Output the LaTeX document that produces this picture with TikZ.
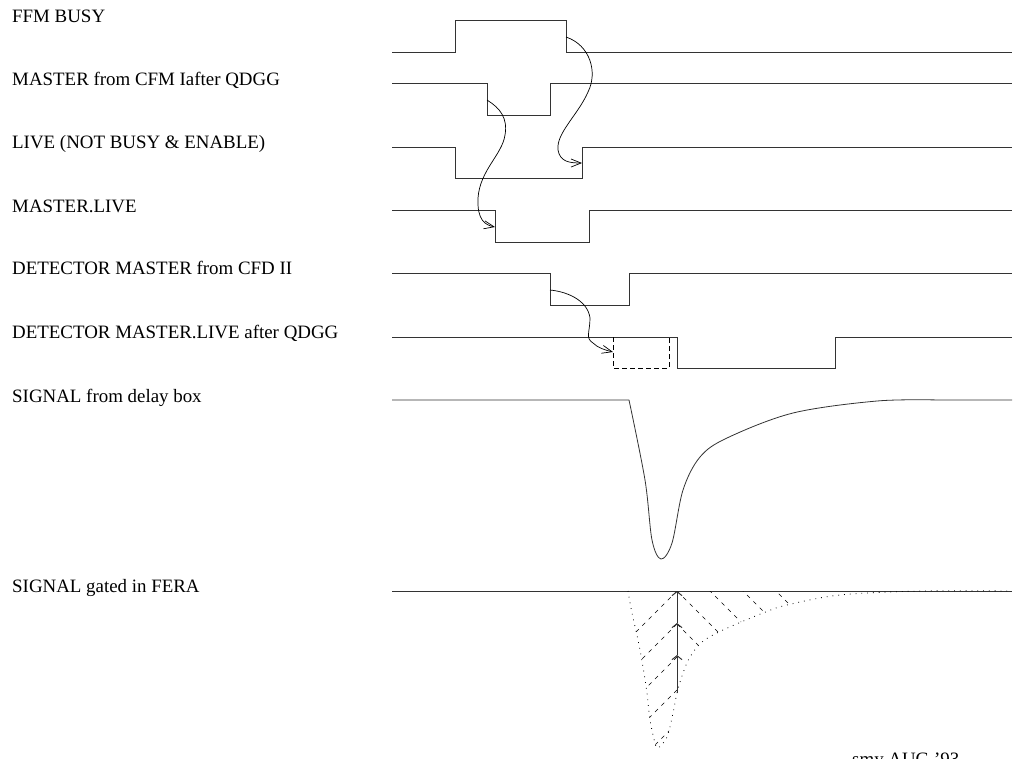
\documentclass[tikz,border=0pt]{standalone}
\usepackage{fontspec}
\setmainfont{Liberation Serif}
\usetikzlibrary{arrows.meta}
\begin{document}
\begin{tikzpicture}[x=1pt, y=-1pt,
    every node/.style={inner sep=0pt, anchor=base west, font=\fontsize{18.9}{22}\selectfont},
    wave/.style={line width=1pt, black!80},
    link/.style={line width=0.7pt, -{Straight Barb[length=10pt,width=8pt]}},
    gate/.style={line width=1pt, black!80, -{Straight Barb[length=4pt,width=10pt]}},
    hatch/.style={line width=0.6pt, dash pattern=on 4pt off 5pt},
    dotline/.style={line width=0.8pt, dash pattern=on 0.8pt off 5pt}]
  \useasboundingbox (0,0) rectangle (1014,758);
  % signal names
  \node (busy) at (12,22) {FFM BUSY};
  \node (master) at (12,85) {MASTER from CFM Iafter QDGG};
  \node (live) at (12,148) {LIVE (NOT BUSY \& ENABLE)};
  \node (mlive) at (12,212) {MASTER.LIVE};
  \node (detm) at (12,274) {DETECTOR MASTER from CFD II};
  \node (detml) at (12,338) {DETECTOR MASTER.LIVE after QDGG};
  \node (sig) at (12,402) {SIGNAL from delay box};
  \node (gated) at (12,592) {SIGNAL gated in FERA};
  \node (stamp) at (852,765) {smy AUG '93};
  % logic levels
  \draw[wave] (392,52) -- (455,52) -- (455,20) -- (566,20) -- (566,52) -- (1012,52);
  \draw[wave] (392,83) -- (487,83) -- (487,115) -- (550,115) -- (550,83) -- (1012,83);
  \draw[wave] (392,147) -- (455,147) -- (455,178) -- (582,178) -- (582,147) -- (1012,147);
  \draw[wave] (392,210) -- (495,210) -- (495,242) -- (589,242) -- (589,210) -- (1012,210);
  \draw[wave] (392,273) -- (550,273) -- (550,305) -- (629,305) -- (629,273) -- (1012,273);
  \draw[wave] (392,337) -- (677,337) -- (677,368) -- (835,368) -- (835,337) -- (1012,337);
  \draw[line width=0.8pt, dash pattern=on 5pt off 3pt] (613,337) -- (613,368) -- (669,368) -- (669,337);
  % edges for the links
  \coordinate (busyfall) at (566,37);
  \coordinate (liverise) at (582,163);
  \coordinate (masterfall) at (487,100);
  \coordinate (mlivefall) at (495,227);
  \coordinate (detmfall) at (550,290);
  \coordinate (window) at (613,352);
  \draw[link] (busyfall) .. controls (590,45) and (598,72) .. (588,92)
     .. controls (578,115) and (556,133) .. (558,150)
     .. controls (560,162) and (570,163) .. (liverise);
  \draw[link] (masterfall) .. controls (500,108) and (508,118) .. (505,135)
     .. controls (502,155) and (480,170) .. (478,198)
     .. controls (477,220) and (485,225) .. (mlivefall);
  \draw[link] (detmfall) .. controls (570,292) and (588,302) .. (590,318)
     .. controls (590,332) and (585,338) .. (593,343)
     .. controls (598,348) and (605,350) .. (window);
  % analog signal
  \draw[wave, line width=0.8pt] (392,400) -- (629,400)
     plot[smooth, tension=0.55] coordinates {(629,400) (645,480) (652,540) (661,559) (672,543) (683,490) (700,457) (727,438) (793,413) (877,401) (940,400)}
     -- (1012,400);
  % gated signal
  \draw[wave] (392,591) -- (1012,591);
  \begin{scope}
    \clip plot[smooth, tension=0.55] coordinates {(628,591) (632,613) (638,640) (643,667) (647,693) (650,720) (655,743) (658,748) (667,737) (673,713) (677,693) (683,673) (690,657) (702,642) (723,630) (763,613) (787,605) (840,595) (920,591) (1012,591)} -- cycle;
    \begin{scope}
      \clip (600,585) rectangle (677,760);
      \foreach \k in {0,...,4} \draw[hatch] (677,591+33*\k) -- ++(-90,90);
    \end{scope}
    \begin{scope}
      \clip (677,585) rectangle (900,760);
      \foreach \k in {-3,...,1} \draw[hatch] (677,591+33*\k) -- ++(130,130);
    \end{scope}
  \end{scope}
  \draw[dotline] plot[smooth, tension=0.55] coordinates {(628,591) (632,613) (638,640) (643,667) (647,693) (650,720) (655,743) (658,748) (667,737) (673,713) (677,693) (683,673) (690,657) (702,642) (723,630) (763,613) (787,605) (840,595) (920,591) (1012,591)};
  \coordinate (g0) at (677,693);
  \coordinate (g1) at (677,655);
  \coordinate (g2) at (677,623);
  \coordinate (g3) at (677,591);
  \draw[gate] (g0) -- (g1);
  \draw[gate] (g1) -- (g2);
  \draw[gate] (g2) -- (g3);
\end{tikzpicture}
\end{document}
